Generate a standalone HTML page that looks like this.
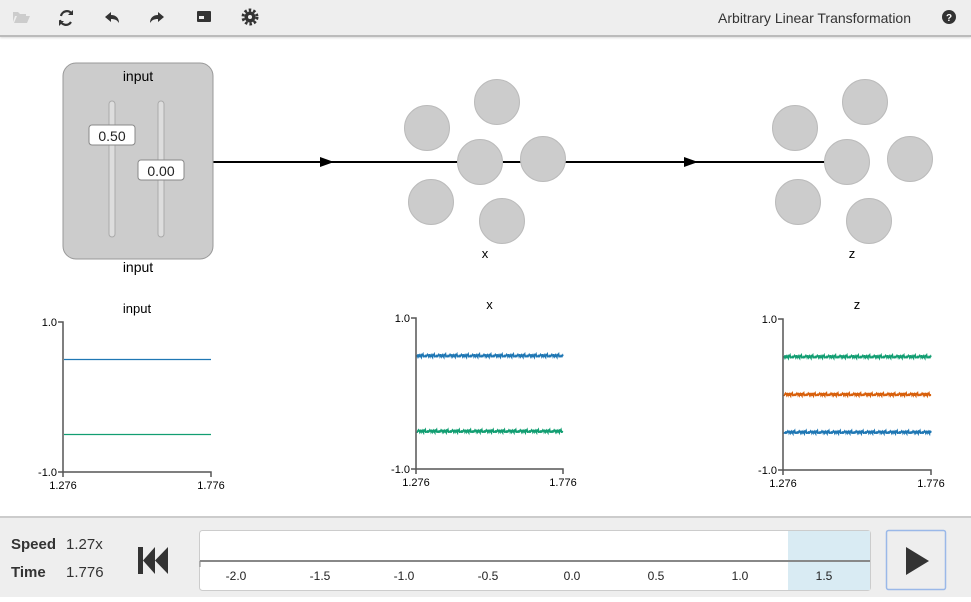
<!DOCTYPE html>
<html><head><meta charset="utf-8">
<style>
body{margin:0;width:971px;height:595px;overflow:hidden;background:#fff;font-family:"Liberation Sans",sans-serif;position:relative}
#toolbar{position:absolute;left:0;top:0;width:971px;height:35px;background:#eee;border-bottom:2px solid #bbb;box-shadow:0 1px 2px rgba(0,0,0,.15)}
#bottom{position:absolute;left:0;top:516px;width:971px;height:79px;background:#eee;border-top:2px solid #ccc}
svg text{font-family:"Liberation Sans",sans-serif}
</style></head><body>
<div id="toolbar">
<svg width="971" height="35">
 <g fill="#ccc"><path d="M13 12h5l2 2h6v2h-11l-2 6z"/><path d="M14 23l3-7h13l-3 7z"/></g>
 <g fill="none" stroke="#333" stroke-width="2.2"><path d="M72 14a6 6 0 0 0-11 2"/><path d="M60 20a6 6 0 0 0 11 2"/><path d="M73 10v5h-5" fill="#333" stroke="none"/><path d="M59 26v-5h5" fill="#333" stroke="none"/></g>
 <path d="M105 17l6-5v3c5 0 8 3 8 8c-2-3-4-4-8-4v3z" fill="#333"/>
 <path d="M164 17l-6-5v3c-5 0-8 3-8 8c2-3 4-4 8-4v3z" fill="#333"/>
 <g><rect x="197" y="11" width="14" height="11" rx="1" fill="#333"/><rect x="199" y="16" width="5" height="3" fill="#eee"/></g>
 <g><circle cx="250" cy="17" r="5.5" fill="#333"/><circle cx="250" cy="17" r="7" fill="none" stroke="#333" stroke-width="3" stroke-dasharray="2.5 2"/><circle cx="250" cy="17" r="2" fill="#eee"/></g>
 <text x="911" y="23" text-anchor="end" font-size="14" fill="#333">Arbitrary Linear Transformation</text>
 <g><circle cx="949" cy="17" r="7" fill="#333"/><text x="949" y="21" text-anchor="middle" font-size="10" font-weight="bold" fill="#fff">?</text></g>
</svg>
</div>

<svg id="net" width="971" height="516" style="position:absolute;left:0;top:0">
 <g stroke="#000" stroke-width="2">
  <line x1="213" y1="162" x2="470" y2="162"/>
  <line x1="500" y1="162" x2="830" y2="162"/>
 </g>
 <path d="M320 157l14 5l-14 5z" fill="#000"/>
 <path d="M684 157l14 5l-14 5z" fill="#000"/>
 <g>
  <rect x="63" y="63" width="150" height="196" rx="13" fill="#ccc" stroke="#999"/>
  <text x="138" y="81" text-anchor="middle" font-size="14">input</text>
  <text x="138" y="272" text-anchor="middle" font-size="14">input</text>
  <rect x="109" y="101" width="6" height="136" rx="3" fill="#ddd" stroke="#aaa"/>
  <rect x="158" y="101" width="6" height="136" rx="3" fill="#ddd" stroke="#aaa"/>
  <g><rect x="89" y="125" width="46" height="20" rx="3" fill="#fff" stroke="#888"/><text x="112" y="141" text-anchor="middle" font-size="14" fill="#222">0.50</text></g>
  <g><rect x="138" y="160" width="46" height="20" rx="3" fill="#fff" stroke="#888"/><text x="161" y="176" text-anchor="middle" font-size="14" fill="#222">0.00</text></g>
 </g>
 <g fill="#ccc" stroke="#bbb">
  <circle cx="497" cy="102" r="22.5"/><circle cx="427" cy="128" r="22.5"/><circle cx="480" cy="162" r="22.5"/><circle cx="543" cy="159" r="22.5"/><circle cx="431" cy="202" r="22.5"/><circle cx="502" cy="221" r="22.5"/>
 </g>
 <text x="485" y="258" text-anchor="middle" font-size="13">x</text>
 <g fill="#ccc" stroke="#bbb">
  <circle cx="865" cy="102" r="22.5"/><circle cx="795" cy="128" r="22.5"/><circle cx="847" cy="162" r="22.5"/><circle cx="910" cy="159" r="22.5"/><circle cx="798" cy="202" r="22.5"/><circle cx="869" cy="221" r="22.5"/>
 </g>
 <text x="852" y="258" text-anchor="middle" font-size="13">z</text>
 <g id="plots"></g>
</svg>

<div id="bottom">
<svg width="971" height="79">
 <text x="11" y="31" font-size="15" font-weight="bold" fill="#333">Speed</text>
 <text x="66" y="31" font-size="15" fill="#333">1.27x</text>
 <text x="11" y="59" font-size="15" font-weight="bold" fill="#333">Time</text>
 <text x="66" y="59" font-size="15" fill="#333">1.776</text>
 <g fill="#333"><rect x="138" y="29" width="5" height="27"/><path d="M143 42.5l12-13.5v27z"/><path d="M155 42.5l13-13.5v27z"/></g>
 <g>
  <rect x="199.5" y="12.5" width="671" height="60" rx="3" fill="#fff" stroke="#ccc"/>
  <rect x="788" y="13" width="82" height="59" fill="#d9ebf3"/>
  <line x1="200" y1="43" x2="870" y2="43" stroke="#888" stroke-width="2"/>
  <line x1="200" y1="43" x2="200" y2="49" stroke="#888"/>
  <g id="tl" font-size="12" fill="#222" text-anchor="middle"></g>
 </g>
 <g><rect x="886.5" y="12.5" width="59" height="59" rx="2" fill="#eee" stroke="#9ab8e8" stroke-width="1.5"/><path d="M906 29l23 14l-23 14z" fill="#333"/></g>
</svg>
</div>

<script>
const NS="http://www.w3.org/2000/svg";
const timeTicks=["-2.0","-1.5","-1.0","-0.5","0.0","0.5","1.0","1.5"];
const xTickLabels=["1.276","1.776"];
const yTickLabels=["1.0","-1.0"];
const inputValues=[0.5,-0.5];
const xValues=[0.5,-0.5];
const zValues=[0.5,0.0,-0.5];
const noise=[0.01,-0.02,0.015,0.005,-0.01,0.025,-0.015,0.0,0.02,-0.025,0.01,-0.005,0.018,-0.012,0.004,-0.02,0.012,0.022,-0.008,0.006,-0.018,0.014,-0.004,0.009,-0.022,0.016,0.002,-0.014,0.02,-0.006,0.028,-0.017,0.007,-0.027];
const colors={blue:"#1f77b4",green:"#129e72",orange:"#d8600c"};

function mk(tag,attrs,parent){const e=document.createElementNS(NS,tag);for(const k in attrs)e.setAttribute(k,attrs[k]);parent.appendChild(e);return e;}

const tl=document.getElementById('tl');
timeTicks.forEach((t,i)=>{
 const v=parseFloat(t);
 const x=572+v*168;
 const el=mk('text',{x:x,y:62},tl);
 
 
 el.textContent=t;
});

const plots=document.getElementById('plots');
function plot(name,title,L,T,W,H,vals,cols,noisy,titleY){
 const g=mk('g',{},plots);
 
 
 const sy=v=>T+(1-v)/2*H;
 const t=mk('text',{x:L+W/2,y:titleY,'text-anchor':'middle','font-size':13},g);
 
 
 t.textContent=title;
 vals.forEach((v,i)=>{
  let d="";
  const n=noisy?440:2;
  for(let k=0;k<n;k++){
   const x=L+1+(W-1)*k/(n-1);
   const y=sy(v+(noisy?noise[(k*13+i*11)%noise.length]*0.9:0));
   d+=(k?"L":"M")+x.toFixed(2)+" "+y.toFixed(1);
  }
  const p=mk('path',{d:d,fill:'none',stroke:cols[i],'stroke-width':noisy?1.3:1.3},g);
  
  
 });
 mk('path',{d:`M${L-5} ${T}H${L}V${T+H}H${L+W}V${T+H+5}M${L-5} ${T+H}H${L}M${L} ${T+H}V${T+H+5}`,fill:'none',stroke:'#555','stroke-width':1.5},g);
 yTickLabels.forEach(s=>{
  const e=mk('text',{x:L-6,y:sy(parseFloat(s))+4,'text-anchor':'end','font-size':11},g);
  
  
  e.textContent=s;
 });
 xTickLabels.forEach((s,i)=>{
  const e=mk('text',{x:L+i*W,y:T+H+17,'text-anchor':'middle','font-size':11},g);
  
  
  e.textContent=s;
 });
}
plot('input-plot','input',63,322,148,150,inputValues,[colors.blue,colors.green],false,313);
plot('x-plot','x',416,318,147,151,xValues,[colors.blue,colors.green],true,309);
plot('z-plot','z',783,319,148,151,zValues,[colors.green,colors.orange,colors.blue],true,309);
</script>
</body></html>
